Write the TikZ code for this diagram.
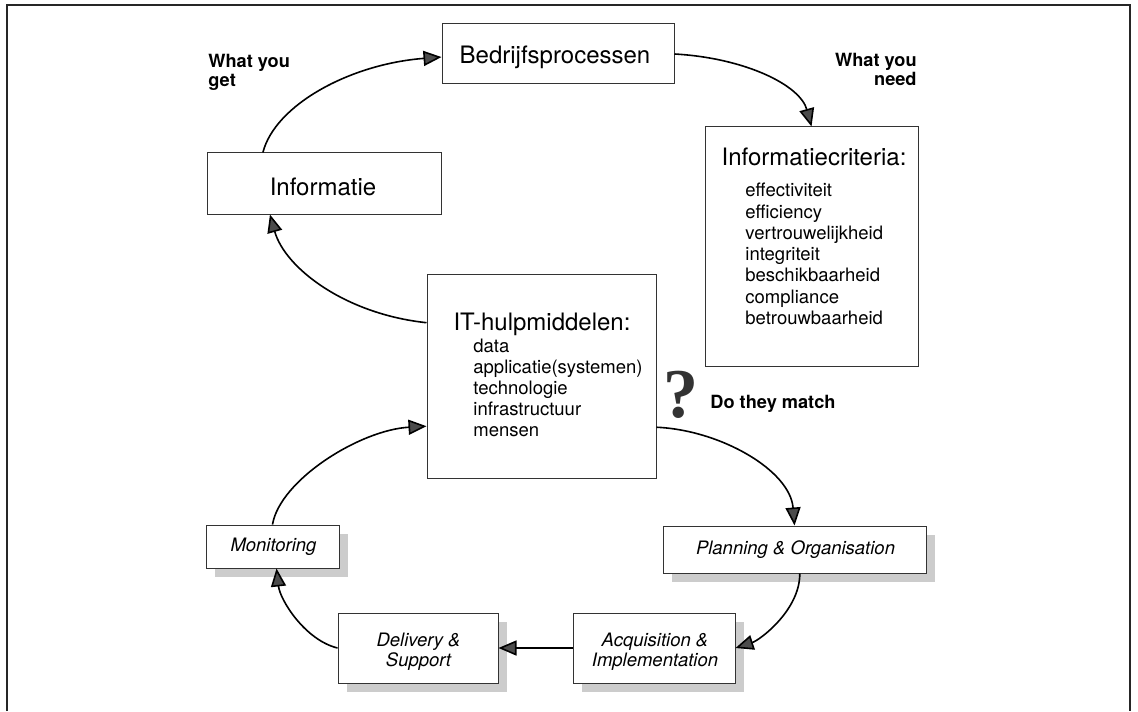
\documentclass[tikz,border=0pt]{standalone}
\usepackage{fontspec}
\setmainfont{TeX Gyre Heros}
\newfontfamily\qfont{Liberation Serif}
\usetikzlibrary{arrows.meta,calc,shadows}

\begin{document}
\begin{tikzpicture}[x=0.5pt,y=-0.5pt,
  box/.style={draw=black!80, line width=0.5pt, fill=white, inner sep=0pt},
  procbox/.style={box, drop shadow={shadow xshift=4.5pt, shadow yshift=-4.5pt, fill=black!20, opacity=1}},
  title/.style={font=\fontsize{12}{14}\selectfont, inner sep=0pt, anchor=base},
  item/.style={font=\fontsize{9.25}{10.5}\selectfont, inner sep=0pt, anchor=base west},
  phase/.style={font=\fontsize{9.25}{10.5}\selectfont\itshape, inner sep=0pt, anchor=base},
  note/.style={font=\fontsize{9.1}{10}\selectfont\bfseries, inner sep=0pt},
  flow/.style={line width=0.8pt, -{Triangle[length=9pt,width=7.5pt,fill=black!70]}},
]
% page and frame
\fill[white] (0,0) rectangle (1138,711);
\useasboundingbox (0,0) rectangle (1138,711);
\draw[line width=0.7pt, black!85] (7,711) -- (7,5) -- (1130,5) -- (1130,711);

% upper boxes
\node[box, minimum width=116pt, minimum height=30pt] (bedrijf) at (558,54) {};
\node[title] (bedrijf-t) at (555,64) {Bedrijfsprocessen};

\node[box, minimum width=117pt, minimum height=30.5pt] (info) at (324,183.5) {};
\node[title] (info-t) at (323,196) {Informatie};

\node[box, minimum width=106.5pt, minimum height=119.5pt] (crit) at (811.5,246.5) {};
\node[title] (crit-t) at (814,166) {Informatiecriteria:};
\foreach \t [count=\i from 0] in {effectiviteit, efficiency, vertrouwelijkheid, integriteit, beschikbaarheid, compliance, betrouwbaarheid}
  \node[item] (crit-\i) at (745,{197+21.2*\i}) {\t};

\node[box, minimum width=114.5pt, minimum height=102pt] (itres) at (541.5,376) {};
\node[title] (itres-t) at (542,330) {IT-hulpmiddelen:};
\foreach \t [count=\i from 0] in {data, applicatie(systemen), technologie, infrastructuur, mensen}
  \node[item] (itres-\i) at (473,{352.5+21.1*\i}) {\t};

% process boxes
\node[procbox, minimum width=131.5pt, minimum height=23.5pt] (plan) at (794.5,549.5) {};
\node[phase] (plan-t) at (795.5,554) {Planning \& Organisation};

\node[procbox, minimum width=81pt, minimum height=35pt] (acq) at (654,648) {};
\node[phase] (acq-t1) at (655,646) {Acquisition \&};
\node[phase] (acq-t2) at (655,666) {Implementation};

\node[procbox, minimum width=80pt, minimum height=35pt] (deliv) at (418,648) {};
\node[phase] (deliv-t1) at (418.5,646) {Delivery \&};
\node[phase] (deliv-t2) at (418.5,666) {Support};

\node[procbox, minimum width=66.5pt, minimum height=21.5pt] (mon) at (272.5,546.5) {};
\node[phase] (mon-t) at (273.5,551) {Monitoring};

% side notes
\node[note, anchor=base west] (get1) at (208,68) {What you};
\node[note, anchor=base west] (get2) at (208,87) {get};
\node[note, anchor=base east] (need1) at (917,67) {What you};
\node[note, anchor=base east] (need2) at (917,86) {need};
\node[inner sep=0pt, anchor=base, text=black!80, font=\qfont\bfseries\fontsize{35}{35}\selectfont] (quest) at (681,417) {?};
\node[note, anchor=base west] (match) at (710,408) {Do they match};

% connectors
\draw[flow] ($(info.north west)!0.24!(info.north east)$) .. controls (275,105) and (350,64) .. ($(bedrijf.north west)!0.55!(bedrijf.south west)$);
\draw[flow] (bedrijf.east) .. controls (745,58) and (800,85) .. (crit.north);
\draw[flow] ($(itres.north west)!0.24!(itres.south west)$) .. controls (345,314) and (285,268) .. ($(info.south west)!0.27!(info.south east)$);
\draw[flow] (mon.north) .. controls (280,480) and (360,430) .. ($(itres.north west)!0.745!(itres.south west)$);
\draw[flow] ($(itres.north east)!0.75!(itres.south east)$) .. controls (720,430) and (790,470) .. (plan.north);
\draw[flow] ($(plan.south west)!0.52!(plan.south east)$) .. controls (800,610) and (760,640) .. (acq.east);
\draw[flow] (acq.west) -- (deliv.east);
\draw[flow] (deliv.west) .. controls (305,640) and (280,600) .. ($(mon.south west)!0.53!(mon.south east)$);
\end{tikzpicture}
\end{document}
